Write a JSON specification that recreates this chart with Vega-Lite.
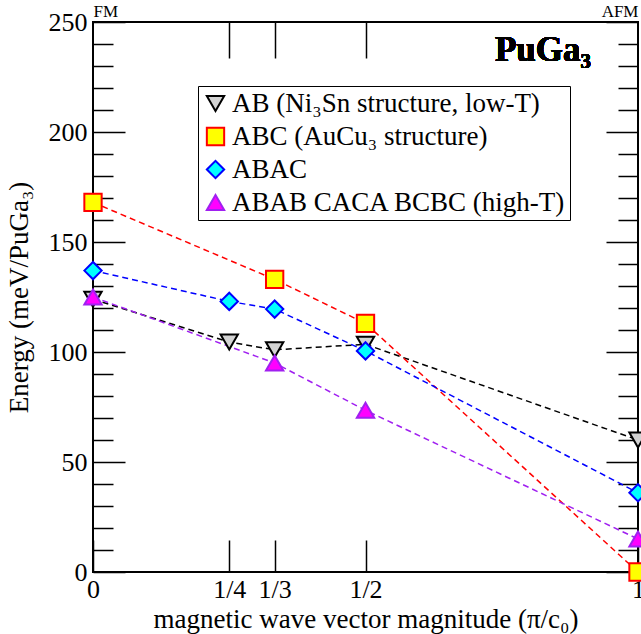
{
  "$schema": "https://vega.github.io/schema/vega-lite/v6.json",
  "width": 545,
  "height": 550,
  "autosize": {"type": "none"},
  "padding": {"left": 93, "top": 22, "right": 3, "bottom": 62},
  "background": "white",
  "config": {
    "view": {"stroke": "black", "strokeWidth": 2},
    "font": "Liberation Serif",
    "text": {"font": "Liberation Serif"},
    "axis": {"domain": false, "grid": false, "tickColor": "black", "tickWidth": 1.5, "labelColor": "black", "titleColor": "black", "labelFont": "Liberation Serif", "titleFont": "Liberation Serif", "titleFontWeight": "normal", "labelFlush": false},
    "legend": {
      "orient": "none", "legendX": 105, "legendY": 64,
      "strokeColor": "black", "fillColor": "white", "padding": 4,
      "labelFont": "Liberation Serif", "labelFontSize": 27, "labelColor": "black",
      "symbolSize": 300, "symbolStrokeWidth": 2, "rowPadding": 5, "labelOffset": 3,
      "labelLimit": 600
    }
  },
  "data": {"values": [
    {"series": "AB", "x": 0, "y": 124},
    {"series": "AB", "x": 0.25, "y": 104.5},
    {"series": "AB", "x": 0.3333, "y": 101},
    {"series": "AB", "x": 0.5, "y": 103.5},
    {"series": "AB", "x": 1, "y": 60},
    {"series": "ABC", "x": 0, "y": 168},
    {"series": "ABC", "x": 0.3333, "y": 133},
    {"series": "ABC", "x": 0.5, "y": 113},
    {"series": "ABC", "x": 1, "y": 0},
    {"series": "ABAC", "x": 0, "y": 137},
    {"series": "ABAC", "x": 0.25, "y": 123},
    {"series": "ABAC", "x": 0.3333, "y": 119.5},
    {"series": "ABAC", "x": 0.5, "y": 100.5},
    {"series": "ABAC", "x": 1, "y": 36},
    {"series": "ABAB", "x": 0, "y": 125},
    {"series": "ABAB", "x": 0.3333, "y": 95},
    {"series": "ABAB", "x": 0.5, "y": 73.5},
    {"series": "ABAB", "x": 1, "y": 15}
  ]},
  "resolve": {"axis": {"x": "independent", "y": "independent"}},
  "layer": [
    {
      "mark": {"type": "line", "strokeWidth": 1.5, "strokeDash": [6, 4]},
      "encoding": {
        "x": {"field": "x", "type": "quantitative", "scale": {"domain": [0, 1], "nice": false},
          "axis": {"orient": "bottom", "values": [0, 0.25, 0.3333, 0.5, 1], "tickSize": -32, "labelPadding": 36, "labelFlush": false,
            "labelExpr": "datum.value == 0 ? '0' : datum.value == 0.25 ? '1/4' : datum.value == 0.3333 ? '1/3' : datum.value == 0.5 ? '1/2' : '1'",
            "labelFontSize": 26, "title": "magnetic wave vector magnitude (π/c₀)", "titleFontSize": 27, "titlePadding": 4}},
        "y": {"field": "y", "type": "quantitative", "scale": {"domain": [0, 250], "nice": false},
          "axis": {"orient": "left", "values": [0,10,20,30,40,50,60,70,80,90,100,110,120,130,140,150,160,170,180,190,200,210,220,230,240,250],
            "tickSize": {"condition": {"test": "datum.value % 50 === 0", "value": -32}, "value": -20},
            "labelExpr": "datum.value % 50 === 0 ? datum.label : ''", "labelPadding": 38, "labelFontSize": 26, "labelFlush": false,
            "title": "Energy (meV/PuGa₃)", "titleFontSize": 27, "titlePadding": 15}},
        "stroke": {"field": "series", "type": "nominal",
          "scale": {"domain": ["AB", "ABC", "ABAC", "ABAB"], "range": ["#000000", "#ff0000", "#0000ff", "#a020f0"]},
          "legend": {"title": null, "labelFont": "Liberation Serif", "labelExpr": "datum.value == 'AB' ? 'AB (Ni₃Sn structure, low-T)' : datum.value == 'ABC' ? 'ABC (AuCu₃ structure)' : datum.value == 'ABAC' ? 'ABAC' : 'ABAB CACA BCBC (high-T)'"}},
        "detail": {"field": "series"}
      }
    },
    {
      "mark": {"type": "point", "filled": false, "size": 300, "strokeWidth": 2, "opacity": 1, "fillOpacity": 1},
      "encoding": {
        "x": {"field": "x", "type": "quantitative",
          "axis": {"orient": "top", "values": [0, 0.25, 0.3333, 0.5, 1], "labelFlush": false,
            "tickSize": {"condition": {"test": "datum.value == 0 || datum.value == 1", "value": 0}, "value": -36},
            "labelExpr": "datum.value == 0 ? 'FM' : datum.value == 1 ? 'AFM' : ''",
            "labelAlign": {"condition": {"test": "datum.value == 0", "value": "left"}, "value": "right"},
            "labelFontSize": 17, "labelPadding": 2, "title": null}},
        "y": {"field": "y", "type": "quantitative",
          "axis": {"orient": "right", "values": [0,10,20,30,40,50,60,70,80,90,100,110,120,130,140,150,160,170,180,190,200,210,220,230,240,250],
            "tickSize": {"condition": {"test": "datum.value % 50 === 0", "value": -32}, "value": -20},
            "labels": false, "title": null}},
        "stroke": {"field": "series", "type": "nominal"},
        "fill": {"field": "series", "type": "nominal",
          "scale": {"domain": ["AB", "ABC", "ABAC", "ABAB"], "range": ["#d3d3d3", "#ffff00", "#00ffff", "#ff00ff"]},
          "legend": {"title": null, "labelFont": "Liberation Serif", "labelExpr": "datum.value == 'AB' ? 'AB (Ni₃Sn structure, low-T)' : datum.value == 'ABC' ? 'ABC (AuCu₃ structure)' : datum.value == 'ABAC' ? 'ABAC' : 'ABAB CACA BCBC (high-T)'"}},
        "shape": {"field": "series", "type": "nominal",
          "scale": {"domain": ["AB", "ABC", "ABAC", "ABAB"], "range": ["triangle-down", "square", "diamond", "triangle-up"]},
          "legend": {"title": null, "labelFont": "Liberation Serif", "labelExpr": "datum.value == 'AB' ? 'AB (Ni₃Sn structure, low-T)' : datum.value == 'ABC' ? 'ABC (AuCu₃ structure)' : datum.value == 'ABAC' ? 'ABAC' : 'ABAB CACA BCBC (high-T)'"}}
      }
    },
    {
      "mark": {"type": "text", "text": "PuGa₃", "font": "Liberation Serif", "fontSize": 35, "fontWeight": "bold", "align": "right", "baseline": "alphabetic", "dx": -47, "dy": 39, "color": "black"},
      "encoding": {
        "x": {"datum": 1, "type": "quantitative", "axis": null},
        "y": {"datum": 250, "type": "quantitative", "axis": null}
      }
    }
  ]
}
